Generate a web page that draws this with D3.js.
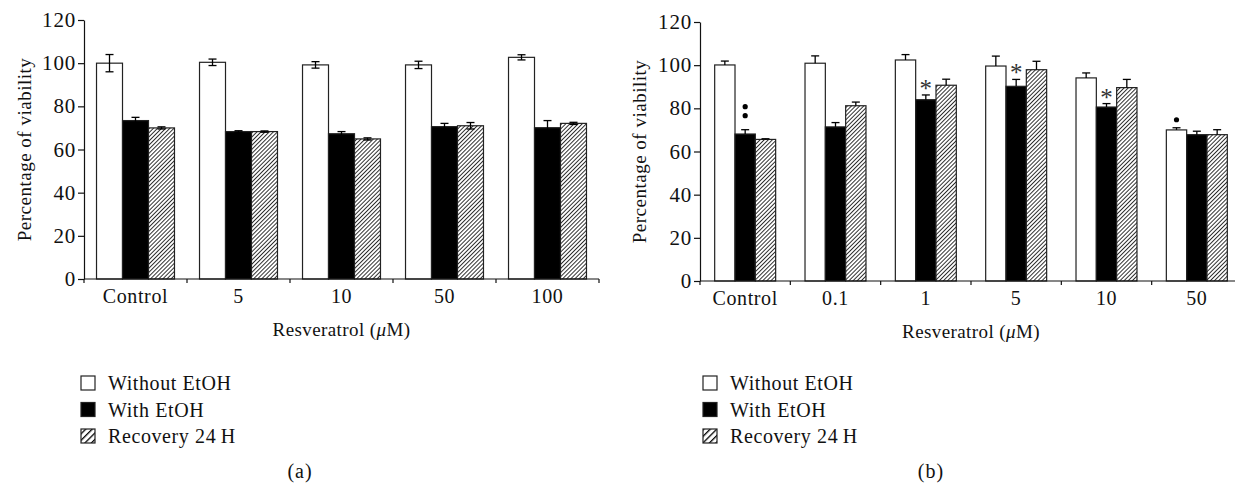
<!DOCTYPE html>
<html>
<head>
<meta charset="utf-8">
<script src="https://cdn.jsdelivr.net/npm/d3@7"></script>
<style>
  body { margin: 0; background: #fff; }
  text { font-family: "Liberation Serif", serif; fill: #111; }
</style>
</head>
<body>
<script>
'use strict';

const W = 1235, H = 484;

const seriesNames = ["Without EtOH", "With EtOH", "Recovery 24\u2009H"];
const yTicks = [0, 20, 40, 60, 80, 100, 120];

// panel (a)
const catsA = ["Control", "5", "10", "50", "100"];
const withoutA = [100, 100.4, 99.2, 99.2, 102.7];
const withoutAErr = [4, 1.5, 1.5, 1.7, 1.2];
const withA = [73.4, 68.3, 67.3, 70.6, 70.1];
const withAErr = [1.5, 0.4, 1, 1.5, 3.3];
const recA = [70, 68.3, 64.9, 71.0, 72.1];
const recAErr = [0.5, 0.3, 0.5, 1.5, 0.5];

// panel (b)
const catsB = ["Control", "0.1", "1", "5", "10", "50"];
const withoutB = [100.1, 100.9, 102.4, 99.6, 94.1, 70.0];
const withoutBErr = [1.8, 3.4, 2.5, 4.6, 2.3, 1.0];
const withB = [68.1, 71.4, 84.0, 90.2, 80.6, 67.8];
const withBErr = [2, 2, 2.2, 3.2, 1.6, 1.6];
const recB = [65.6, 81.2, 90.7, 97.9, 89.6, 67.8];
const recBErr = [0.3, 1.7, 2.8, 3.9, 3.8, 2.3];

// significance marks in (b): category, series index, symbol
const marksB = [
    { cat: "Control", s: 1, mark: "dots" },
    { cat: "1", s: 1, mark: "*" },
    { cat: "5", s: 1, mark: "*" },
    { cat: "10", s: 1, mark: "*" },
    { cat: "50", s: 0, mark: "dot" }
];

const FS = "20px";

let svg = d3.select("body").append("svg")
    .attr("width", W)
    .attr("height", H);

let defs = svg.append("defs");
function hatch(id, size, sw) {
    let p = defs.append("pattern")
        .attr("id", id)
        .attr("patternUnits", "userSpaceOnUse")
        .attr("width", size)
        .attr("height", size)
        .attr("patternTransform", "rotate(45)");
    p.append("rect").attr("width", size).attr("height", size).attr("fill", "#fff");
    p.append("line")
        .attr("x1", 0).attr("y1", 0).attr("x2", 0).attr("y2", size)
        .attr("stroke", "#000").attr("stroke-width", sw);
}
hatch("hatchBar", 2.9, 1.6);
hatch("hatchLegend", 4.6, 2.6);

const fills = ["#fff", "#000", "url(#hatchBar)"];

function panel(opt) {
    let g = svg.append("g");
    let x0 = d3.scaleBand()
        .domain(opt.cats)
        .range([opt.left, opt.right])
        .paddingInner(opt.pad)
        .paddingOuter(opt.pad / 2);
    let x1 = d3.scaleBand()
        .domain([0, 1, 2])
        .range([0, x0.bandwidth()]);
    let y = d3.scaleLinear().domain([0, 120]).range([opt.bottom, opt.top]);

    let rows = opt.cats.map((c, i) => ({
        cat: c,
        vals: opt.series.map((s, k) => ({ s: k, v: s[i], e: opt.errs[k][i] }))
    }));

    let grp = g.selectAll(".grp").data(rows).enter().append("g")
        .attr("transform", d => "translate(" + x0(d.cat) + ",0)");

    grp.selectAll("rect").data(d => d.vals).enter().append("rect")
        .attr("x", d => x1(d.s))
        .attr("y", d => y(d.v))
        .attr("width", x1.bandwidth())
        .attr("height", d => y(0) - y(d.v))
        .attr("fill", d => fills[d.s])
        .attr("stroke", "#222")
        .attr("stroke-width", 1.2);

    // error bars
    let cap = 4;
    let eb = grp.selectAll(".eb").data(d => d.vals).enter().append("g")
        .attr("stroke", "#000")
        .attr("stroke-width", 1.3);
    eb.append("line")
        .attr("x1", d => x1(d.s) + x1.bandwidth() / 2)
        .attr("x2", d => x1(d.s) + x1.bandwidth() / 2)
        .attr("y1", d => opt.twoSided ? y(d.v - d.e) : y(d.v))
        .attr("y2", d => y(d.v + d.e));
    eb.append("line")
        .attr("x1", d => x1(d.s) + x1.bandwidth() / 2 - cap)
        .attr("x2", d => x1(d.s) + x1.bandwidth() / 2 + cap)
        .attr("y1", d => y(d.v + d.e))
        .attr("y2", d => y(d.v + d.e));
    if (opt.twoSided) {
        eb.append("line")
            .attr("x1", d => x1(d.s) + x1.bandwidth() / 2 - cap)
            .attr("x2", d => x1(d.s) + x1.bandwidth() / 2 + cap)
            .attr("y1", d => y(d.v - d.e))
            .attr("y2", d => y(d.v - d.e));
    }

    // y axis: line and ticks from d3, labels drawn separately
    let yAxis = d3.axisLeft(y).tickValues(yTicks).tickSize(6).tickFormat("").tickSizeOuter(0);
    let ya = g.append("g")
        .attr("transform", "translate(" + opt.left + ",0)")
        .call(yAxis);
    ya.selectAll("line, path").attr("stroke", "#111").attr("stroke-width", 1.2);
    g.selectAll(".yl").data(yTicks).enter().append("text")
        .attr("x", opt.left - 8)
        .attr("y", d => y(d) + 7)
        .attr("text-anchor", "end")
        .style("font-size", "21px")
        .style("letter-spacing", "0.8px")
        .text(d => d);

    g.append("line")
        .attr("x1", opt.left).attr("x2", opt.right)
        .attr("y1", y(0)).attr("y2", y(0))
        .attr("stroke", "#111").attr("stroke-width", 1.2);
    let bounds = opt.cats.map((c, i) => opt.left + i * x0.step()).concat([opt.right]);
    g.selectAll(".xt").data(bounds).enter().append("line")
        .attr("x1", d => d).attr("x2", d => d)
        .attr("y1", y(0)).attr("y2", y(0) + 4)
        .attr("stroke", "#111").attr("stroke-width", 1.2);
    g.selectAll(".xl").data(opt.cats).enter().append("text")
        .attr("x", d => x0(d) + x0.bandwidth() / 2)
        .attr("y", y(0) + 24)
        .attr("text-anchor", "middle")
        .style("font-size", FS)
        .style("letter-spacing", "0.6px")
        .text(d => d);

    let xt = g.append("text")
        .attr("x", (opt.left + opt.right) / 2)
        .attr("y", y(0) + 57)
        .attr("text-anchor", "middle")
        .style("font-size", "19px")
        .style("letter-spacing", "0.4px");
    xt.append("tspan").text("Resveratrol (");
    xt.append("tspan").style("font-style", "italic").text("\u03bc");
    xt.append("tspan").text("M)");

    g.append("text")
        .attr("transform", "translate(" + opt.ylabX + "," + (y(0) + y(120)) / 2 + ") rotate(-90)")
        .attr("text-anchor", "middle")
        .style("font-size", "19px")
        .style("letter-spacing", "0.5px")
        .text("Percentage of viability");

    // marks
    (opt.marks || []).forEach(m => {
        let i = opt.cats.indexOf(m.cat);
        let v = opt.series[m.s][i] + opt.errs[m.s][i];
        let cx = x0(m.cat) + x1(m.s) + x1.bandwidth() / 2;
        if (m.mark === "*") {
            g.append("text")
                .attr("x", cx).attr("y", y(v) + 2)
                .attr("text-anchor", "middle")
                .style("font-size", "25px")
                .style("fill", "#333")
                .text("*");
        } else if (m.mark === "dots") {
            g.append("circle").attr("cx", cx).attr("cy", y(v) - 14).attr("r", 2.6).attr("fill", "#000");
            g.append("circle").attr("cx", cx).attr("cy", y(v) - 23).attr("r", 2.6).attr("fill", "#000");
        } else {
            g.append("circle").attr("cx", cx).attr("cy", y(v) - 8).attr("r", 2.6).attr("fill", "#000");
        }
    });

    // legend
    let lg = g.append("g");
    seriesNames.forEach((n, k) => {
        let ly = 376 + k * 26.5;
        lg.append("rect")
            .attr("x", opt.legX).attr("y", ly)
            .attr("width", 14).attr("height", 14)
            .attr("fill", k === 2 ? "url(#hatchLegend)" : fills[k])
            .attr("stroke", "#222").attr("stroke-width", 1.2);
        lg.append("text")
            .attr("x", opt.legX + 27).attr("y", ly + 14)
            .style("font-size", FS)
            .style("letter-spacing", "0.6px")
            .text(n);
    });

    g.append("text")
        .attr("x", opt.capX).attr("y", 478)
        .attr("text-anchor", "middle")
        .style("font-size", "20px")
        .style("letter-spacing", "1px")
        .text(opt.caption);
}

panel({
    cats: catsA,
    series: [withoutA, withA, recA],
    errs: [withoutAErr, withAErr, recAErr],
    left: 84, right: 599, top: 20, bottom: 279,
    pad: 0.243, twoSided: true,
    ylabX: 31, legX: 81, capX: 300, caption: "(a)"
});

panel({
    cats: catsB,
    series: [withoutB, withB, recB],
    errs: [withoutBErr, withBErr, recBErr],
    left: 700, right: 1242, top: 22, bottom: 281,
    pad: 0.325, twoSided: false, marks: marksB,
    ylabX: 646, legX: 703, capX: 931, caption: "(b)"
});
</script>
</body>
</html>
